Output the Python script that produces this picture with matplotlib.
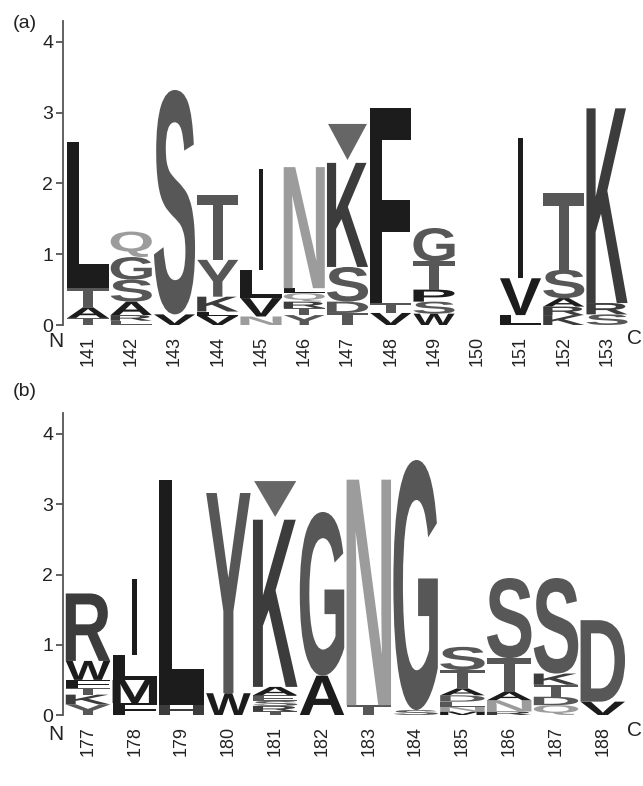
import matplotlib
matplotlib.use('Agg')
import matplotlib.pyplot as plt
from matplotlib.textpath import TextPath
from matplotlib.patches import PathPatch, Polygon
from matplotlib.font_manager import FontProperties
from matplotlib.transforms import Affine2D

# residue positions and letter stacks (bottom -> top, height in bits)
pos_a = list(range(141, 154))
stacks_a = [
    [('T', 0.10), ('A', 0.15), ('T', 0.27), ('L', 2.07)],
    [('E', 0.06), ('R', 0.08), ('A', 0.19), ('S', 0.31), ('G', 0.32), ('Q', 0.36)],
    [('V', 0.15), ('S', 3.17)],
    [('V', 0.13), ('L', 0.06), ('K', 0.21), ('Y', 0.52), ('T', 0.92)],
    [('N', 0.12), ('V', 0.26), ('L', 0.39), ('I', 1.43)],
    [('Y', 0.14), ('T', 0.10), ('R', 0.09), ('Q', 0.12), ('L', 0.07), ('N', 1.71)],
    [('T', 0.17), ('D', 0.16), ('S', 0.49), ('K', 1.47)],
    [('V', 0.17), ('T', 0.14), ('F', 2.75)],
    [('W', 0.16), ('S', 0.17), ('P', 0.17), ('T', 0.40), ('G', 0.47)],
    [],
    [('L', 0.14), ('V', 0.52), ('I', 1.98)],
    [('K', 0.14), ('R', 0.12), ('A', 0.12), ('S', 0.40), ('T', 1.08)],
    [('S', 0.15), ('R', 0.16), ('K', 2.75)],
]
mark_a = 147

pos_b = list(range(177, 189))
stacks_b = [
    [('Y', 0.15), ('K', 0.14), ('T', 0.09), ('F', 0.12), ('W', 0.27), ('R', 0.96)],
    [('F', 0.17), ('M', 0.33), ('L', 0.36), ('I', 1.07)],
    [('H', 0.14), ('L', 3.21)],
    [('W', 0.31), ('Y', 2.85)],
    [('T', 0.05), ('R', 0.08), ('S', 0.07), ('E', 0.08), ('A', 0.12), ('K', 2.38)],
    [('A', 0.56), ('G', 2.33)],
    [('T', 0.14), ('N', 3.21)],
    [('S', 0.07), ('G', 3.56)],
    [('M', 0.05), ('N', 0.07), ('E', 0.07), ('D', 0.09), ('A', 0.10), ('T', 0.26), ('S', 0.33)],
    [('R', 0.05), ('N', 0.16), ('A', 0.12), ('T', 0.48), ('S', 1.14)],
    [('Q', 0.14), ('D', 0.12), ('T', 0.17), ('K', 0.16), ('S', 1.36)],
    [('V', 0.19), ('D', 1.16)],
]
mark_b = 181

colors = {}
for c in 'AVLIPWFMC':
    colors[c] = '#1c1c1c'
for c in 'KRH':
    colors[c] = '#3c3c3c'
for c in 'STGYDE':
    colors[c] = '#575757'
for c in 'NQ':
    colors[c] = '#9c9c9c'

fp = FontProperties(family='Liberation Sans', weight='bold')


def draw_letter(ax, ch, x, y0, h, w):
    tp = TextPath((0, 0), ch, size=1, prop=fp)
    bb = tp.get_extents()
    if ch == 'I':
        w = w * 0.12
    tr = (Affine2D().translate(-bb.x0, -bb.y0)
          .scale(w / bb.width, h / bb.height)
          .translate(x - w / 2, y0))
    ax.add_patch(PathPatch(tr.transform_path(tp), fc=colors[ch], ec='none', lw=0))


def draw_panel(ax, positions, stacks, mark, xlim):
    for x, st in zip(positions, stacks):
        y = 0
        for ch, h in st:
            draw_letter(ax, ch, x, y, h, 0.95)
            y += h
    top = sum(h for _, h in stacks[positions.index(mark)])
    ax.add_patch(Polygon([(mark - 0.45, top + 0.55), (mark + 0.45, top + 0.55), (mark, top + 0.04)],
                         closed=True, fc='#666666', ec='none'))
    ax.set_xlim(*xlim)
    ax.set_ylim(0, 4.3)
    for s in ['top', 'right', 'bottom']:
        ax.spines[s].set_visible(False)
    ax.spines['left'].set_color('#555555')
    ax.spines['left'].set_linewidth(1.3)
    ax.set_yticks([0, 1, 2, 3, 4])
    ax.tick_params(axis='y', direction='out', length=5, width=1.3, color='#555555',
                   labelsize=14, labelcolor='#222222', pad=2)
    ax.set_xticks(positions)
    ax.set_xticklabels([str(p) for p in positions], rotation=90, fontsize=13, color='#222222')
    ax.tick_params(axis='x', length=0, pad=8)
    ax.patch.set_alpha(0)


plt.rcParams['font.family'] = ['Liberation Sans', 'DejaVu Sans']
W, H = 643, 786
fig = plt.figure(figsize=(W / 100, H / 100), dpi=100)

ax_a = fig.add_axes([63 / W, (H - 325) / H, 567 / W, 4.3 * 70.8 / H])
draw_panel(ax_a, pos_a, stacks_a, mark_a, (141 - 25 / 43.25, 141 + 542 / 43.25))

ax_b = fig.add_axes([63 / W, (H - 715) / H, 567 / W, 4.3 * 70.25 / H])
draw_panel(ax_b, pos_b, stacks_b, mark_b, (177 - 25 / 46.8, 177 + 542 / 46.8))

fig.text(56 / W, 1 - 342 / H, 'N', fontsize=15, ha='center', va='center', color='#222222')
fig.text(635 / W, 1 - 339 / H, 'C', fontsize=15, ha='center', va='center', color='#222222')
fig.text(56 / W, 1 - 734 / H, 'N', fontsize=15, ha='center', va='center', color='#222222')
fig.text(634 / W, 1 - 730 / H, 'C', fontsize=15, ha='center', va='center', color='#222222')
fig.text(25 / W, 1 - 23 / H, '(a)', fontsize=14, ha='center', va='center', color='#222222')
fig.text(25 / W, 1 - 391 / H, '(b)', fontsize=14, ha='center', va='center', color='#222222')

fig.savefig('out.png', dpi=100)
